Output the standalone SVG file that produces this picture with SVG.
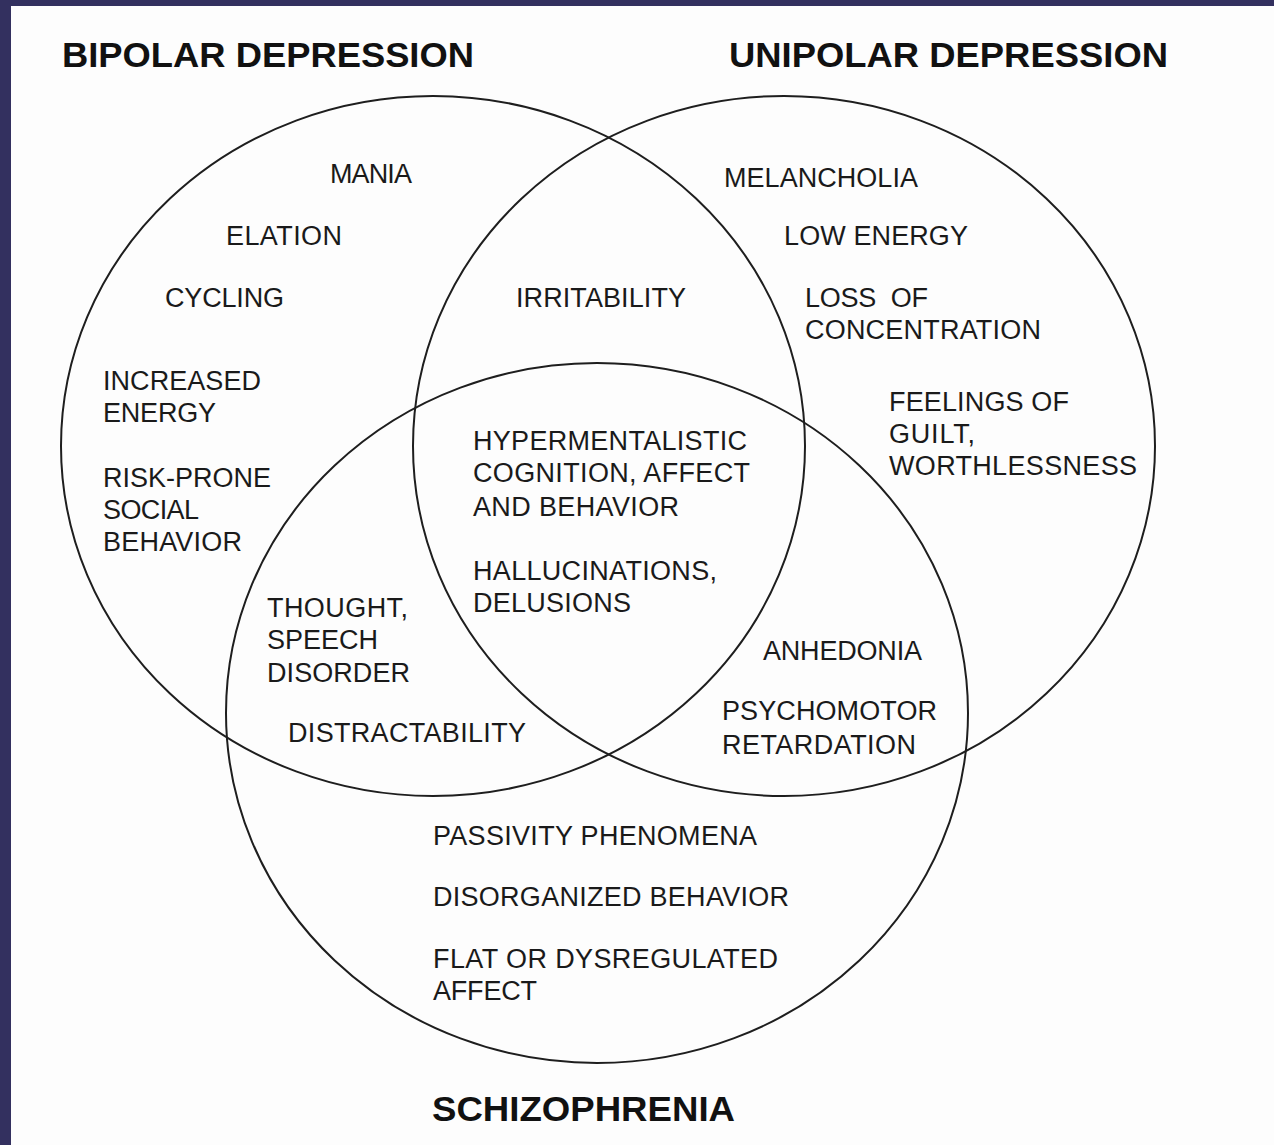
<svg xmlns="http://www.w3.org/2000/svg" width="1274" height="1145" viewBox="0 0 1274 1145">
<style>
.c{fill:none;stroke:#1e1e1e;stroke-width:2}
.t{font-family:"Liberation Sans",Arial,sans-serif;font-size:27px;fill:#1a1a1a}
.h{font-family:"Liberation Sans",Arial,sans-serif;font-size:35px;font-weight:bold;fill:#111}
</style>
<rect x="0" y="0" width="1274" height="1145" fill="#33305f"/>
<rect x="11" y="6" width="1263" height="1139" fill="#fdfdfd"/>
<g id="connectors"></g>
<g id="bipolar">
<ellipse class="c" cx="433" cy="446" rx="372" ry="350"/>
<text class="h" x="62" y="67" textLength="412" lengthAdjust="spacingAndGlyphs">BIPOLAR DEPRESSION</text>
<text class="t" x="330" y="183" textLength="82">MANIA</text>
<text class="t" x="226" y="245" textLength="116">ELATION</text>
<text class="t" x="165" y="307" textLength="119">CYCLING</text>
<text class="t" x="103" y="390" textLength="158">INCREASED</text>
<text class="t" x="103" y="422" textLength="113">ENERGY</text>
<text class="t" x="103" y="487" textLength="168">RISK-PRONE</text>
<text class="t" x="103" y="519" textLength="96">SOCIAL</text>
<text class="t" x="103" y="551" textLength="139">BEHAVIOR</text>
</g>
<g id="unipolar">
<ellipse class="c" cx="784" cy="446" rx="371" ry="350"/>
<text class="h" x="729" y="67" textLength="439" lengthAdjust="spacingAndGlyphs">UNIPOLAR DEPRESSION</text>
<text class="t" x="724" y="187" textLength="194">MELANCHOLIA</text>
<text class="t" x="784" y="245" textLength="184">LOW ENERGY</text>
<text class="t" x="805" y="307" textLength="123" xml:space="preserve">LOSS  OF</text>
<text class="t" x="805" y="339" textLength="236">CONCENTRATION</text>
<text class="t" x="889" y="411" textLength="180">FEELINGS OF</text>
<text class="t" x="889" y="443" textLength="86">GUILT,</text>
<text class="t" x="889" y="475" textLength="248">WORTHLESSNESS</text>
</g>
<g id="schizophrenia">
<ellipse class="c" cx="597" cy="713" rx="371" ry="350"/>
<text class="h" x="432" y="1121" textLength="303" lengthAdjust="spacingAndGlyphs">SCHIZOPHRENIA</text>
<text class="t" x="433" y="845" textLength="324">PASSIVITY PHENOMENA</text>
<text class="t" x="433" y="906" textLength="356">DISORGANIZED BEHAVIOR</text>
<text class="t" x="433" y="968" textLength="345">FLAT OR DYSREGULATED</text>
<text class="t" x="433" y="1000" textLength="104">AFFECT</text>
</g>
<g id="bipolar-unipolar">
<text class="t" x="516" y="307" textLength="170">IRRITABILITY</text>
</g>
<g id="all-three">
<text class="t" x="473" y="450" textLength="274">HYPERMENTALISTIC</text>
<text class="t" x="473" y="482" textLength="277">COGNITION, AFFECT</text>
<text class="t" x="473" y="516" textLength="206">AND BEHAVIOR</text>
<text class="t" x="473" y="580" textLength="244">HALLUCINATIONS,</text>
<text class="t" x="473" y="612" textLength="158">DELUSIONS</text>
</g>
<g id="bipolar-schizophrenia">
<text class="t" x="267" y="617" textLength="141">THOUGHT,</text>
<text class="t" x="267" y="649" textLength="111">SPEECH</text>
<text class="t" x="267" y="682" textLength="143">DISORDER</text>
<text class="t" x="288" y="742" textLength="238">DISTRACTABILITY</text>
</g>
<g id="unipolar-schizophrenia">
<text class="t" x="763" y="660" textLength="159">ANHEDONIA</text>
<text class="t" x="722" y="720" textLength="215">PSYCHOMOTOR</text>
<text class="t" x="722" y="754" textLength="194">RETARDATION</text>
</g>
</svg>
